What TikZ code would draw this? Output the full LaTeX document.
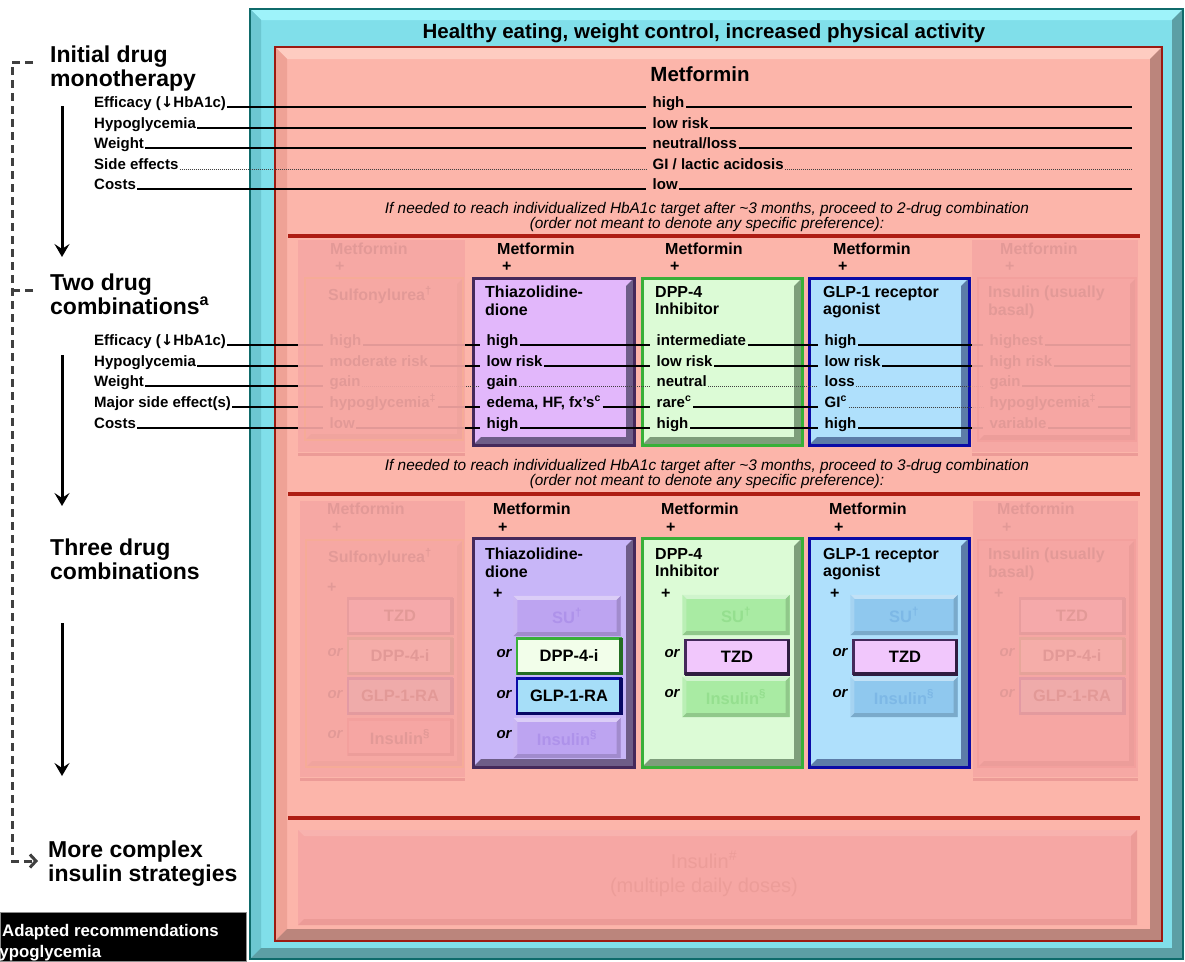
\documentclass[tikz,border=0pt]{standalone}
\usepackage{fontspec}
\setmainfont{Liberation Sans}
\newfontfamily\symfont{DejaVu Sans}
\usetikzlibrary{arrows.meta}

\definecolor{cyanface}{HTML}{80DFEA}
\definecolor{cyantop}{HTML}{9EF3FA}
\definecolor{cyanleft}{HTML}{6CC7D1}
\definecolor{cyandark}{HTML}{5C9FA5}
\definecolor{cyanborder}{HTML}{0F6B6B}
\definecolor{salmon}{HTML}{FCB5AA}
\definecolor{salmontop}{HTML}{FECCC1}
\definecolor{salmonleft}{HTML}{EFA296}
\definecolor{salmondark}{HTML}{BB857C}
\definecolor{redborder}{HTML}{9C1A12}
\definecolor{redline}{HTML}{AE1D13}
\definecolor{fadebg}{HTML}{F6A7A4}
\definecolor{fadetop}{HTML}{F8B2AE}
\definecolor{fadeshadow}{HTML}{EC9B97}
\definecolor{fadetext}{HTML}{EC9D99}
\definecolor{tzdtwo}{HTML}{E2B7FB}
\definecolor{tzdthree}{HTML}{C8B6F8}
\definecolor{purpleborder}{HTML}{45295B}
\definecolor{purplebevel}{HTML}{6E5D88}
\definecolor{dppface}{HTML}{DCFBD6}
\definecolor{greenborder}{HTML}{38B038}
\definecolor{greenbevel}{HTML}{7E9E7B}
\definecolor{greendark}{HTML}{236D23}
\definecolor{glpface}{HTML}{AFE0FC}
\definecolor{navy}{HTML}{0B0BA6}
\definecolor{bluebevel}{HTML}{5C7CA8}
\definecolor{tzdsmall}{HTML}{F1C7FC}
\definecolor{dppsmall}{HTML}{F2FEEA}
\definecolor{glpsmall}{HTML}{A6DEF8}
\definecolor{sutzd}{HTML}{BDA4F1}
\definecolor{sutzdtext}{HTML}{AE92EA}
\definecolor{sudpp}{HTML}{A9EBA3}
\definecolor{sudpptext}{HTML}{95DF8F}
\definecolor{suglp}{HTML}{8FC8EE}
\definecolor{suglptext}{HTML}{7DB8E6}
\definecolor{sufill}{HTML}{F8C09E}
\definecolor{suborder}{HTML}{FFE000}
\definecolor{sudark}{HTML}{B08A60}
\definecolor{insfill}{HTML}{F79C9A}
\definecolor{insborder}{HTML}{D95050}

% a filled box as a node
\newcommand{\drugpanel}[6]{\node[panel, fill=#6, minimum width=#4pt, minimum height=#5pt] (#1) at (#2,#3) {};}
% raised edges of a box: node, depth, top, left, bottom/right, border
\newcommand{\bevelframe}[6]{%
  \fill[#3] (#1.north west) -- (#1.north east) -- ([xshift=-#2,yshift=-#2]#1.north east) -- ([xshift=#2,yshift=-#2]#1.north west) -- cycle;
  \fill[#4] (#1.north west) -- ([xshift=#2,yshift=-#2]#1.north west) -- ([xshift=#2,yshift=#2]#1.south west) -- (#1.south west) -- cycle;
  \fill[#5] (#1.south west) -- ([xshift=#2,yshift=#2]#1.south west) -- ([xshift=-#2,yshift=#2]#1.south east) -- ([xshift=-#2,yshift=-#2]#1.north east) -- (#1.north east) -- (#1.south east) -- cycle;
  \draw[#6] (#1.north west) rectangle (#1.south east);
}
% coloured rim of a small drug box
\newcommand{\chipframe}[3]{%
  \draw[#2, line width=2.5pt] (#1.north west) rectangle (#1.south east);
  \draw[#3, line width=3.5pt] (#1.south west) -- (#1.south east) -- (#1.north east);
}

\tikzset{
  panel/.style={rectangle, anchor=north west, inner sep=0pt, outer sep=0pt},
  title/.style={inner sep=0pt, font=\fontsize{20.5}{22}\selectfont\bfseries},
  head/.style={anchor=north west, align=left, inner sep=0pt, font=\fontsize{23}{24}\selectfont\bfseries},
  lbl/.style={anchor=base west, inner sep=1pt, font=\fontsize{15}{18}\selectfont\bfseries},
  val/.style={anchor=base west, inner xsep=1.5pt, inner ysep=1pt, font=\fontsize{15}{18}\selectfont\bfseries},
  colhead/.style={anchor=base west, inner sep=0pt, font=\fontsize{16}{18}\selectfont\bfseries},
  boxtitle/.style={anchor=north west, align=left, inner sep=0pt, font=\fontsize{16}{17.5}\selectfont\bfseries},
  note/.style={align=center, inner sep=0pt, font=\fontsize{15.4}{15}\selectfont\itshape},
  orlbl/.style={inner sep=0pt, font=\fontsize{15}{18}\selectfont\bfseries\itshape},
  chip/.style={rectangle, inner sep=0pt, minimum width=104pt, minimum height=35pt, font=\fontsize{16.5}{18}\selectfont\bfseries},
  ghost/.style={chip, minimum width=107pt, minimum height=40pt},
  rowline/.style={line width=1.3pt, shorten >=5pt},
  dotline/.style={line width=1pt, densely dotted, draw=black!75, shorten >=5pt},
  sepline/.style={line width=4pt, draw=redline},
  fadecover/.style={fill=fadebg, opacity=0.92},
  stage/.style={line width=3pt, -{Stealth[length=13pt, width=15pt, inset=5pt]}},
  dashline/.style={line width=3pt, draw=black!75, dash pattern=on 8pt off 5pt, -{Straight Barb[length=6pt, width=13pt]}},
}

\begin{document}
\begin{tikzpicture}[x=1pt, y=-1pt]
\useasboundingbox (0,0) rectangle (1185,961);

%%% frames %%%
\drugpanel{life}{250}{9}{933}{950}{cyanface}
\bevelframe{life}{11pt}{cyantop}{cyanleft}{cyandark}{draw=cyanborder, line width=1.5pt}
\node[title] (lifeT) at (704,33) {Healthy eating, weight control, increased physical activity};
\drugpanel{metf}{275}{47}{887}{894}{salmon}
\bevelframe{metf}{12pt}{salmontop}{salmonleft}{salmondark}{draw=redborder, line width=2.5pt}
\foreach \y in {236,494,818} \draw[sepline] (288,\y) -- (1140,\y);

%%% monotherapy %%%
\node[title] (metfT) at (700,74) {Metformin};
\coordinate (monoEnd) at (1137,0);
\foreach \n/\y/\lab/\val in {
    1/107/{Efficacy ({\symfont ↓}HbA1c)}/high,
    2/128/Hypoglycemia/{low risk},
    3/148/Weight/{neutral/loss},
    4/169/{Side effects}/{GI / lactic acidosis},
    5/189/Costs/low}{
  \node[lbl] (monoL\n) at (93,\y) {\lab};
  \node[val] (monoV\n) at (651,\y) {\val};
}
\foreach \n/\st in {1/rowline,2/rowline,3/rowline,4/dotline,5/rowline}{
  \draw[\st] (monoL\n.base east) -- (monoV\n.base west);
  \draw[\st] (monoV\n.base east) -- (monoEnd |- monoV\n.base);
}

%%% two drug combinations %%%
\node[note] (next2) at (707,217) {If needed to reach individualized HbA1c target after \textasciitilde3 months, proceed to 2-drug combination\\(order not meant to denote any specific preference):};
\foreach \x/\n in {330/a,497/b,665/c,833/d,1000/e}{
  \node[colhead] (twoM\n) at (\x,254) {Metformin};
  \node[colhead] (twoP\n) at (\x+5,271) {+};
}
\drugpanel{twoSu}{305}{278}{158}{162}{sufill}
\bevelframe{twoSu}{6pt}{sufill}{sufill}{sudark}{draw=suborder, line width=2pt}
\drugpanel{twoIns}{978}{278}{158}{163}{insfill}
\bevelframe{twoIns}{6pt}{insfill}{insfill}{insborder!60!black}{draw=insborder, line width=2pt}
\drugpanel{twoTzd}{473}{278}{161}{167}{tzdtwo}
\bevelframe{twoTzd}{8pt}{tzdtwo}{tzdtwo}{purplebevel}{draw=purpleborder, line width=3pt}
\drugpanel{twoDpp}{642}{278}{160}{167}{dppface}
\bevelframe{twoDpp}{8pt}{dppface}{dppface}{greenbevel}{draw=greenborder, line width=3pt}
\drugpanel{twoGlp}{809}{278}{160}{167}{glpface}
\bevelframe{twoGlp}{8pt}{glpface}{glpface}{bluebevel}{draw=navy, line width=3pt}
\node[boxtitle] (twoSuT) at (328,286) {Sulfonylurea\textsuperscript{†}};
\node[boxtitle] (twoTzdT) at (485,286) {Thiazolidine-\\dione};
\node[boxtitle] (twoDppT) at (655,286) {DPP-4\\Inhibitor};
\node[boxtitle] (twoGlpT) at (823,286) {GLP-1 receptor\\agonist};
\node[boxtitle] (twoInsT) at (988,286) {Insulin (usually\\basal)};
\coordinate (twoEnd) at (1136,0);
\foreach \n/\y/\lab/\va/\vb/\vc/\vd/\ve in {
    1/345/{Efficacy ({\symfont ↓}HbA1c)}/high/high/intermediate/high/highest,
    2/366/Hypoglycemia/{moderate risk}/{low risk}/{low risk}/{low risk}/{high risk},
    3/386/Weight/gain/gain/neutral/loss/gain,
    4/407/{Major side effect(s)}/{hypoglycemia\textsuperscript{‡}}/{edema, HF, fx's\textsuperscript{c}}/{rare\textsuperscript{c}}/{GI\textsuperscript{c}}/{hypoglycemia\textsuperscript{‡}},
    5/428/Costs/low/high/high/high/variable}{
  \node[lbl] (twoL\n) at (93,\y) {\lab};
  \node[val] (twoA\n) at (328,\y) {\va};
  \node[val] (twoB\n) at (485,\y) {\vb};
  \node[val] (twoC\n) at (655,\y) {\vc};
  \node[val] (twoD\n) at (823,\y) {\vd};
  \node[val] (twoE\n) at (988,\y) {\ve};
}
\foreach \n/\ms/\rs in {1/rowline/rowline,2/rowline/rowline,3/dotline/dotline,4/rowline/dotline,5/rowline/rowline}{
  \draw[rowline] (twoL\n.base east) -- (twoA\n.base west);
  \draw[\ms] (twoA\n.base east) -- (twoB\n.base west);
  \draw[\ms] (twoB\n.base east) -- (twoC\n.base west);
  \draw[\ms] (twoC\n.base east) -- (twoD\n.base west);
  \draw[\rs] (twoD\n.base east) -- (twoE\n.base west);
  \draw[rowline] (twoE\n.base east) -- (twoEnd |- twoE\n.base);
}
\fill[fadecover] (298,240) rectangle (465,452);
\fill[fadecover] (972,240) rectangle (1138,452);
\draw[fadeshadow, line width=3pt] (298,454) -- (465,454);
\draw[fadeshadow, line width=3pt] (972,454) -- (1138,454);

%%% three drug combinations %%%
\node[note] (next3) at (707,474) {If needed to reach individualized HbA1c target after \textasciitilde3 months, proceed to 3-drug combination\\(order not meant to denote any specific preference):};
\foreach \x/\n in {327/a,493/b,661/c,829/d,997/e}{
  \node[colhead] (threeM\n) at (\x,514) {Metformin};
  \node[colhead] (threeP\n) at (\x+5,532) {+};
}
% faded sulfonylurea column
\drugpanel{threeSu}{306}{540}{157}{227}{sufill}
\bevelframe{threeSu}{6pt}{sufill}{sufill}{sudark}{draw=suborder, line width=2pt}
\node[boxtitle] (threeSuT) at (328,548) {Sulfonylurea\textsuperscript{†}};
\node[colhead] (threeSuP) at (327,592) {+};
\node[chip, fill=tzdsmall] (suTzd) at (400,616) {TZD}; \chipframe{suTzd}{purpleborder}{purpleborder!70!black}
\node[chip, fill=dppsmall] (suDpp) at (400,656) {DPP-4-i}; \chipframe{suDpp}{greenborder}{greendark}
\node[chip, fill=glpsmall] (suGlp) at (400,696) {GLP-1-RA}; \chipframe{suGlp}{navy}{navy!60!black}
\node[chip, fill=insfill] (suIns) at (400,737) {Insulin\textsuperscript{§}}; \chipframe{suIns}{insborder}{insborder!60!black}
\foreach \y/\n in {653/1,695/2,735/3} \node[orlbl] (suOr\n) at (335,\y) {or};
% faded insulin column
\drugpanel{threeIns}{978}{540}{157}{227}{insfill}
\bevelframe{threeIns}{6pt}{insfill}{insfill}{insborder!60!black}{draw=insborder, line width=2pt}
\node[boxtitle] (threeInsT) at (988,548) {Insulin (usually\\basal)};
\node[colhead] (threeInsP) at (994,598) {+};
\node[chip, fill=tzdsmall] (insTzd) at (1072,616) {TZD}; \chipframe{insTzd}{purpleborder}{purpleborder!70!black}
\node[chip, fill=dppsmall] (insDpp) at (1072,656) {DPP-4-i}; \chipframe{insDpp}{greenborder}{greendark}
\node[chip, fill=glpsmall] (insGlp) at (1072,696) {GLP-1-RA}; \chipframe{insGlp}{navy}{navy!60!black}
\foreach \y/\n in {653/1,694/2} \node[orlbl] (insOr\n) at (1007,\y) {or};
\fill[fadecover] (300,501) rectangle (465,777);
\fill[fadecover] (973,501) rectangle (1138,777);
\draw[fadeshadow, line width=3pt] (300,779) -- (465,779);
\draw[fadeshadow, line width=3pt] (973,779) -- (1138,779);
% thiazolidinedione column
\drugpanel{threeTzd}{473}{538}{161}{229}{tzdthree}
\bevelframe{threeTzd}{8pt}{tzdthree}{tzdthree}{purplebevel}{draw=purpleborder, line width=3pt}
\node[boxtitle] (threeTzdT) at (485,548) {Thiazolidine-\\dione};
\node[colhead] (threeTzdP) at (493,598) {+};
\node[ghost, fill=sutzd, text=sutzdtext] (tzdSu) at (567,616) {SU\textsuperscript{†}};
\bevelframe{tzdSu}{4pt}{sutzd!55!white}{sutzd!80!white}{sutzd!85!black}{draw=none}
\node[chip, fill=dppsmall] (tzdDpp) at (569,656) {DPP-4-i}; \chipframe{tzdDpp}{greenborder}{greendark}
\node[chip, fill=glpsmall] (tzdGlp) at (569,696) {GLP-1-RA}; \chipframe{tzdGlp}{navy}{navy!60!black}
\node[ghost, fill=sutzd, text=sutzdtext] (tzdIns) at (567,738) {Insulin\textsuperscript{§}};
\bevelframe{tzdIns}{4pt}{sutzd!55!white}{sutzd!80!white}{sutzd!85!black}{draw=none}
\foreach \y/\n in {654/1,695/2,735/3} \node[orlbl] (tzdOr\n) at (504,\y) {or};
% dpp-4 column
\drugpanel{threeDpp}{642}{538}{160}{229}{dppface}
\bevelframe{threeDpp}{8pt}{dppface}{dppface}{greenbevel}{draw=greenborder, line width=3pt}
\node[boxtitle] (threeDppT) at (655,548) {DPP-4\\Inhibitor};
\node[colhead] (threeDppP) at (661,598) {+};
\node[ghost, fill=sudpp, text=sudpptext] (dppSu) at (736,615) {SU\textsuperscript{†}};
\bevelframe{dppSu}{4pt}{sudpp!55!white}{sudpp!80!white}{sudpp!85!black}{draw=none}
\node[chip, fill=tzdsmall, minimum width=103pt, minimum height=34pt] (dppTzd) at (737,657) {TZD}; \chipframe{dppTzd}{purpleborder}{purpleborder!70!black}
\node[ghost, fill=sudpp, text=sudpptext] (dppIns) at (736,697) {Insulin\textsuperscript{§}};
\bevelframe{dppIns}{4pt}{sudpp!55!white}{sudpp!80!white}{sudpp!85!black}{draw=none}
\foreach \y/\n in {654/1,694/2} \node[orlbl] (dppOr\n) at (672,\y) {or};
% glp-1 column
\drugpanel{threeGlp}{809}{538}{160}{229}{glpface}
\bevelframe{threeGlp}{8pt}{glpface}{glpface}{bluebevel}{draw=navy, line width=3pt}
\node[boxtitle] (threeGlpT) at (823,548) {GLP-1 receptor\\agonist};
\node[colhead] (threeGlpP) at (830,598) {+};
\node[ghost, fill=suglp, text=suglptext] (glpSu) at (904,615) {SU\textsuperscript{†}};
\bevelframe{glpSu}{4pt}{suglp!55!white}{suglp!80!white}{suglp!85!black}{draw=none}
\node[chip, fill=tzdsmall, minimum width=103pt, minimum height=34pt] (glpTzd) at (905,657) {TZD}; \chipframe{glpTzd}{purpleborder}{purpleborder!70!black}
\node[ghost, fill=suglp, text=suglptext] (glpIns) at (904,697) {Insulin\textsuperscript{§}};
\bevelframe{glpIns}{4pt}{suglp!55!white}{suglp!80!white}{suglp!85!black}{draw=none}
\foreach \y/\n in {653/1,694/2} \node[orlbl] (glpOr\n) at (840,\y) {or};

%%% insulin strategies %%%
\drugpanel{multi}{298}{830}{839}{95}{fadebg}
\bevelframe{multi}{6pt}{fadetop}{fadebg}{fadeshadow}{draw=none}
\node[align=center, inner sep=0pt, text=fadetext, font=\fontsize{20}{24}\selectfont] (multiT) at (704,874) {Insulin\textsuperscript{\#}\\(multiple daily doses)};

%%% left column %%%
\node[head] (stage1) at (50,46) {Initial drug\\monotherapy};
\node[head] (stage2) at (50,274) {Two drug\\combinations\textsuperscript{a}};
\node[head] (stage3) at (50,539) {Three drug\\combinations};
\node[head] (stage4) at (48,841) {More complex\\insulin strategies};
\coordinate (go1) at (62,106); \coordinate (to1) at (62,257);
\coordinate (go2) at (62,355); \coordinate (to2) at (62,506);
\coordinate (go3) at (62,623); \coordinate (to3) at (62,776);
\draw[stage] (go1) -- (to1);
\draw[stage] (go2) -- (to2);
\draw[stage] (go3) -- (to3);
\coordinate (dtop) at (33,62);
\coordinate (dmid) at (33,290);
\coordinate (dcorner) at (12,861);
\coordinate (dend) at (38,861);
\draw[dashline] (dtop) -| (dcorner) -- (dend);
\draw[dashline, -] (dmid) -- (dmid -| dcorner);

%%% source box %%%
\node[panel, fill=black, draw=black!45, line width=1pt, minimum width=246pt, minimum height=49pt] (adapted) at (0,912) {};
\begin{scope}
  \clip (adapted.north west) rectangle (adapted.south east);
  \node[anchor=base west, inner sep=0pt, text=white, font=\fontsize{16.8}{18}\selectfont\bfseries] (adaptedT) at (2,936) {Adapted recommendations};
  \node[anchor=base west, inner sep=0pt, text=white, font=\fontsize{16.8}{18}\selectfont\bfseries] (adaptedH) at (-11,957) {hypoglycemia};
\end{scope}
\end{tikzpicture}
\end{document}
